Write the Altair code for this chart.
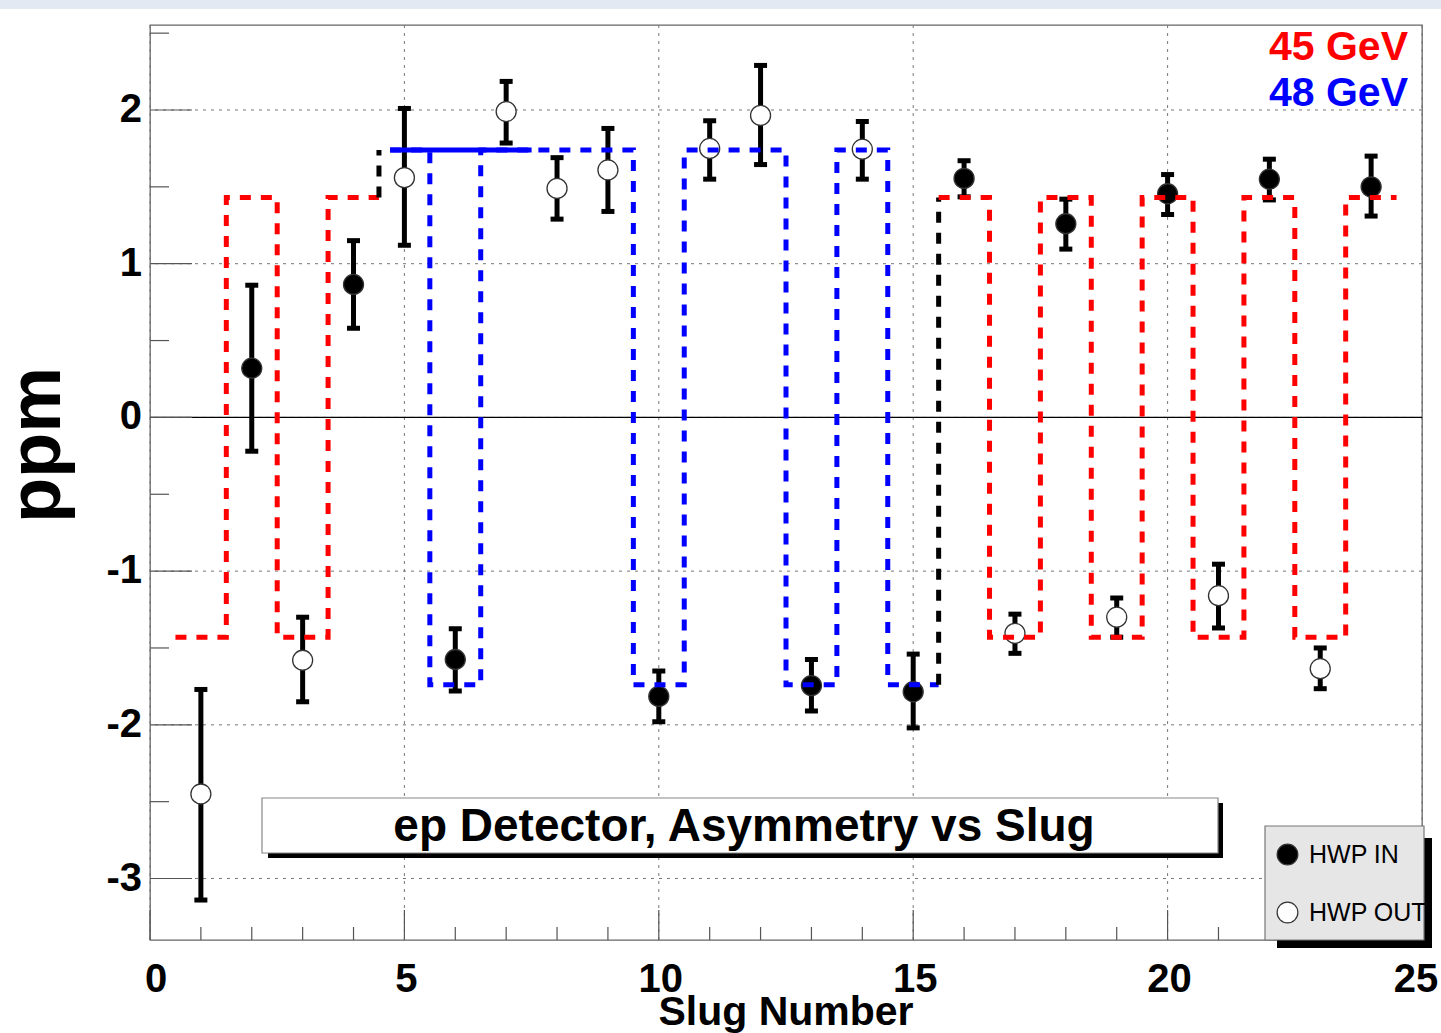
import altair as alt
import pandas as pd

# ---- data ----
slugs = list(range(1, 25))
asym = [-2.45, 0.32, -1.58, 0.865, 1.56, -1.575, 1.99, 1.49, 1.61, -1.815, 1.75, 1.965,
        -1.745, 1.745, -1.785, 1.555, -1.405, 1.26, -1.30, 1.455, -1.16, 1.55, -1.635, 1.50]
err_lo = [-3.14, -0.22, -1.85, 0.58, 1.12, -1.78, 1.785, 1.29, 1.34, -1.98, 1.55, 1.645,
          -1.91, 1.55, -2.02, 1.435, -1.535, 1.095, -1.43, 1.32, -1.37, 1.415, -1.765, 1.31]
err_hi = [-1.77, 0.86, -1.30, 1.15, 2.01, -1.375, 2.186, 1.69, 1.88, -1.65, 1.93, 2.29,
          -1.575, 1.925, -1.54, 1.67, -1.28, 1.42, -1.175, 1.58, -0.955, 1.68, -1.50, 1.70]
hwp = ["HWP OUT", "HWP IN", "HWP OUT", "HWP IN", "HWP OUT", "HWP IN", "HWP OUT", "HWP OUT",
       "HWP OUT", "HWP IN", "HWP OUT", "HWP OUT", "HWP IN", "HWP OUT", "HWP IN", "HWP IN",
       "HWP OUT", "HWP IN", "HWP OUT", "HWP IN", "HWP OUT", "HWP IN", "HWP OUT", "HWP IN"]

# expected-sign step lines
red1_x = [0.5, 1.5, 1.5, 2.5, 2.5, 3.5, 3.5, 4.5]
red1_y = [-1.43, -1.43, 1.43, 1.43, -1.43, -1.43, 1.43, 1.43]
black1_x = [4.5, 4.5]
black1_y = [1.43, 1.74]
blue_x = [4.72, 5.5, 5.5, 6.5, 6.5, 9.5, 9.5, 10.5, 10.5, 12.5, 12.5, 13.5, 13.5, 14.5, 14.5, 15.5]
blue_y = [1.74, 1.74, -1.74, -1.74, 1.74, 1.74, -1.74, -1.74, 1.74, 1.74, -1.74, -1.74,
          1.74, 1.74, -1.74, -1.74]
blue_solid_x = [4.72, 7.5]
blue_solid_y = [1.74, 1.74]
black2_x = [15.5, 15.5]
black2_y = [-1.74, 1.43]
red2_x = [15.5, 16.5, 16.5, 17.5, 17.5, 18.5, 18.5, 19.5, 19.5, 20.5, 20.5, 21.5, 21.5,
          22.5, 22.5, 23.5, 23.5, 24.5]
red2_y = [1.43, 1.43, -1.43, -1.43, 1.43, 1.43, -1.43, -1.43, 1.43, 1.43, -1.43, -1.43,
          1.43, 1.43, -1.43, -1.43, 1.43, 1.43]

# axes
x_major = [0, 5, 10, 15, 20, 25]
x_labels = ["0", "5", "10", "15", "20", "25"]
x_minor = [v for v in range(1, 25) if v % 5 != 0]
y_major = [-3, -2, -1, 0, 1, 2]
y_labels = ["-3", "-2", "-1", "0", "1", "2"]
y_minor = [-2.5, -1.5, -0.5, 0.5, 1.5, 2.5]
x_title = "Slug Number"
y_title = "ppm"

title_text = "ep Detector, Asymmetry vs Slug"
energy_45 = "45 GeV"
energy_48 = "48 GeV"

# ---- tables ----
pts = pd.DataFrame({"slug": slugs, "asym": asym, "lo": err_lo, "hi": err_hi, "hwp": hwp})

def seg(name, xs_, ys_, col):
    return pd.DataFrame({"x": xs_, "y": ys_, "seg": name, "ord": list(range(len(xs_))), "col": col})

steps = pd.concat([
    seg("red1", red1_x, red1_y, "#ff0000"),
    seg("black1", black1_x, black1_y, "#000000"),
    seg("blue", blue_x, blue_y, "#0000ff"),
    seg("black2", black2_x, black2_y, "#000000"),
    seg("red2", red2_x, red2_y, "#ff0000"),
])
solid = seg("bsolid", blue_solid_x, blue_solid_y, "#0000ff")

W, H = 1272, 915
FONT = "Liberation Sans"
xs = alt.Scale(domain=[0, 25], nice=False, zero=False)
ys = alt.Scale(domain=[-3.4, 2.553], nice=False, zero=False)

dummy = pd.DataFrame({"a": [0]})
xmaj_df = pd.DataFrame({"v": x_major, "lab": x_labels})
ymaj_df = pd.DataFrame({"v": y_major, "lab": y_labels})

band = alt.Chart(dummy).mark_rect(color="#e3e9f2").encode(
    x=alt.value(-150), x2=alt.value(W + 19), y=alt.value(-25), y2=alt.value(-16))

xgrid = alt.Chart(xmaj_df).mark_rule(color="#777", strokeWidth=1, strokeDash=[3, 5]).encode(
    x=alt.X("v:Q", scale=xs, axis=None))
ygrid = alt.Chart(ymaj_df).mark_rule(color="#777", strokeWidth=1, strokeDash=[3, 5]).encode(
    y=alt.Y("v:Q", scale=ys, axis=None))

def xlab_layer(df, dx):
    return alt.Chart(df).mark_text(font=FONT, fontWeight="bold", fontSize=40, color="black",
                                   align="center", baseline="alphabetic", dx=dx).encode(
        x=alt.X("v:Q", scale=xs, axis=None), y=alt.value(967), text="lab:N")

xlab_first = xlab_layer(xmaj_df.iloc[:1], 6)
xlab_mid = xlab_layer(xmaj_df.iloc[1:-1], 2)
xlab_last = xlab_layer(xmaj_df.iloc[-1:], -6)

ylab = alt.Chart(ymaj_df).mark_text(font=FONT, fontWeight="bold", fontSize=40, color="black",
                                     align="right", baseline="middle").encode(
    y=alt.Y("v:Q", scale=ys, axis=None), x=alt.value(-8), text="lab:N")

xtitle = alt.Chart(pd.DataFrame({"t": [x_title]})).mark_text(
    font=FONT, fontWeight="bold", fontSize=41, color="black", align="center",
    baseline="alphabetic").encode(x=alt.value(636), y=alt.value(1000), text="t:N")
ytitle = alt.Chart(pd.DataFrame({"t": [y_title]})).mark_text(
    font=FONT, fontWeight="bold", fontSize=74, color="black", align="center",
    baseline="alphabetic", angle=270).encode(x=alt.value(-90), y=alt.value(420), text="t:N")

errbars = alt.Chart(pts).mark_rule(color="black", strokeWidth=5).encode(
    x=alt.X("slug:Q", scale=xs, axis=None),
    y=alt.Y("lo:Q", scale=ys, axis=None),
    y2="hi:Q")

cap_lo = alt.Chart(pts).mark_rule(color="black", strokeWidth=5, xOffset=-6.5, x2Offset=6.5).encode(
    x=alt.X("slug:Q", scale=xs, axis=None), x2="slug:Q",
    y=alt.Y("lo:Q", scale=ys, axis=None))
cap_hi = alt.Chart(pts).mark_rule(color="black", strokeWidth=5, xOffset=-6.5, x2Offset=6.5).encode(
    x=alt.X("slug:Q", scale=xs, axis=None), x2="slug:Q",
    y=alt.Y("hi:Q", scale=ys, axis=None))

zero = alt.Chart(pd.DataFrame({"z": [0]})).mark_rule(color="black", strokeWidth=1.3).encode(
    y=alt.Y("z:Q", scale=ys, axis=None))

def xticks(vals, length):
    return alt.Chart(pd.DataFrame({"v": vals})).mark_rule(color="#555", strokeWidth=1.2).encode(
        x=alt.X("v:Q", scale=xs, axis=None), y=alt.value(H), y2=alt.value(H - length))

def yticks(vals, length):
    return alt.Chart(pd.DataFrame({"v": vals})).mark_rule(color="#555", strokeWidth=1.2).encode(
        y=alt.Y("v:Q", scale=ys, axis=None), x=alt.value(0), x2=alt.value(length))

points = alt.Chart(pts).mark_point(filled=True, shape="circle", size=400, stroke="#333",
                                   strokeWidth=1.3, opacity=1).encode(
    x=alt.X("slug:Q", scale=xs, axis=None),
    y=alt.Y("asym:Q", scale=ys, axis=None),
    fill=alt.Fill("hwp:N", scale=alt.Scale(domain=["HWP IN", "HWP OUT"], range=["black", "white"]),
                  legend=alt.Legend(orient="none", legendX=1125, legendY=817, title=None,
                                    labelFont=FONT, labelFontSize=25, labelColor="black",
                                    symbolType="circle", symbolSize=430, symbolStrokeColor="#333",
                                    symbolStrokeWidth=1.2, rowPadding=31, labelOffset=9,
                                    padding=0)))

step_lines = alt.Chart(steps).mark_line(strokeDash=[11, 10], strokeWidth=5, strokeCap="butt",
                                        strokeJoin="miter").encode(
    x=alt.X("x:Q", scale=xs, axis=None),
    y=alt.Y("y:Q", scale=ys, axis=None),
    color=alt.Color("col:N", scale=None),
    detail="seg:N", order="ord:Q")

solid_line = alt.Chart(solid).mark_line(strokeWidth=5, color="#0000ff").encode(
    x=alt.X("x:Q", scale=xs, axis=None),
    y=alt.Y("y:Q", scale=ys, axis=None), order="ord:Q")

tshadow = alt.Chart(dummy).mark_rect(color="black").encode(
    x=alt.value(118), x2=alt.value(1073), y=alt.value(778), y2=alt.value(833))
tbox = alt.Chart(dummy).mark_rect(fill="white", stroke="#888", strokeWidth=1.2).encode(
    x=alt.value(112), x2=alt.value(1068), y=alt.value(773), y2=alt.value(828))
ttext = alt.Chart(pd.DataFrame({"t": [title_text]})).mark_text(
    font=FONT, fontWeight="bold", fontSize=46, color="black", align="center",
    baseline="alphabetic").encode(x=alt.value(594), y=alt.value(816), text="t:N")

e45 = alt.Chart(pd.DataFrame({"t": [energy_45]})).mark_text(
    font=FONT, fontWeight="bold", fontSize=41, align="right", baseline="alphabetic",
    color="#ff0000").encode(x=alt.value(1258), y=alt.value(35), text="t:N")
e48 = alt.Chart(pd.DataFrame({"t": [energy_48]})).mark_text(
    font=FONT, fontWeight="bold", fontSize=41, align="right", baseline="alphabetic",
    color="#0000ff").encode(x=alt.value(1258), y=alt.value(81), text="t:N")

lshadow = alt.Chart(dummy).mark_rect(color="black").encode(
    x=alt.value(1127), x2=alt.value(1282), y=alt.value(813), y2=alt.value(923))
lbox = alt.Chart(dummy).mark_rect(fill="#e6e6e6", stroke="#777", strokeWidth=1.2).encode(
    x=alt.value(1115), x2=alt.value(1274), y=alt.value(801), y2=alt.value(915))

chart = alt.layer(
    band, xgrid, ygrid, zero,
    xticks(x_major, 30), xticks(x_minor, 13), yticks(y_major, 42), yticks(y_minor, 19),
    xlab_first, xlab_mid, xlab_last, ylab, xtitle, ytitle,
    errbars, cap_lo, cap_hi, points, step_lines, solid_line,
    tshadow, tbox, ttext, e45, e48, lshadow, lbox
).properties(
    width=W, height=H,
    autosize=alt.AutoSizeParams(type="none"),
    padding={"left": 150, "top": 25, "right": 19, "bottom": 93},
    background="white"
).configure_view(stroke="#666", strokeWidth=1.3)

chart.save("out.html", embed_options={"renderer": "svg", "actions": False})
